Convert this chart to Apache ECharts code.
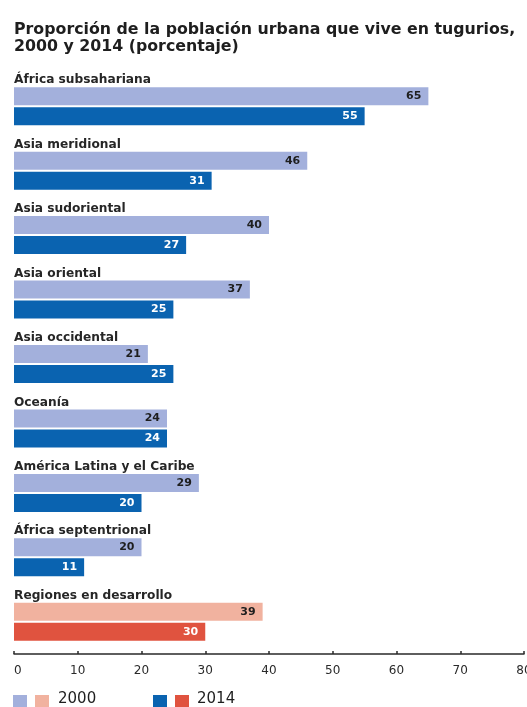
<!DOCTYPE html>
<html>
<head>
<meta charset="utf-8">
<script src="https://cdn.jsdelivr.net/npm/echarts@6/dist/echarts.min.js"></script>
<style>
  html, body { margin: 0; padding: 0; background: #ffffff; }
  #chart { width: 527px; height: 707px; }
</style>
</head>
<body>
<div id="chart"></div>
<script>
// Regions, top to bottom
const regions = [
  'África subsahariana',
  'Asia meridional',
  'Asia sudoriental',
  'Asia oriental',
  'Asia occidental',
  'Oceanía',
  'América Latina y el Caribe',
  'África septentrional',
  'Regiones en desarrollo'
];
// Share of urban population living in slums (%)
const values2000 = [65, 46, 40, 37, 21, 24, 29, 20, 39];
const values2014 = [55, 31, 27, 25, 25, 24, 20, 11, 30];
const axisTicks = [0, 10, 20, 30, 40, 50, 60, 70, 80];
const seriesNames = ['2000', '2014'];

const FONT = '"DejaVu Sans", sans-serif';
const LIGHT_BLUE = '#a3b0dc';
const DARK_BLUE = '#0a63b0';
const LIGHT_RED = '#f1b29f';
const DARK_RED = '#e0533f';
const TOTAL = 'Regiones en desarrollo';

function itemsFor(values, aggregate) {
  return values.map((v, i) => regions[i] === TOTAL
    ? { value: v, itemStyle: { color: aggregate } }
    : v);
}

const chart = echarts.init(document.getElementById('chart'), null, { renderer: 'canvas' });

const barLabel = (color) => ({
  show: true,
  position: 'insideRight',
  distance: 7,
  color: color,
  fontFamily: FONT,
  fontSize: 11,
  fontWeight: 'bold'
});

chart.setOption({
  animation: false,
  backgroundColor: '#ffffff',
  title: {
    text: 'Proporción de la población urbana que vive en tugurios,\n2000 y 2014 (porcentaje)',
    left: 14,
    top: 21,
    padding: 0,
    textStyle: {
      fontFamily: FONT,
      fontSize: 15.8,
      fontWeight: 'bold',
      color: '#1e1e1e',
      lineHeight: 17
    }
  },
  grid: { left: 14, right: 3, top: 74, bottom: 53, containLabel: false, outerBoundsMode: 'none' },
  xAxis: {
    type: 'value',
    min: axisTicks[0],
    max: axisTicks[axisTicks.length - 1],
    interval: axisTicks[1] - axisTicks[0],
    axisLine: { show: true, lineStyle: { color: '#2a2a2a', width: 1.5 } },
    axisTick: { show: true, inside: true, length: 3, lineStyle: { color: '#2a2a2a', width: 1.5 } },
    splitLine: { show: false },
    axisLabel: {
      margin: 11,
      color: '#2a2a2a',
      fontFamily: FONT,
      fontSize: 12,
      hideOverlap: false,
      alignMinLabel: 'left'
    }
  },
  yAxis: {
    type: 'category',
    data: regions,
    inverse: true,
    axisLine: { show: false },
    axisTick: { show: false },
    axisLabel: {
      inside: true,
      margin: 0,
      align: 'left',
      verticalAlign: 'bottom',
      padding: [0, 0, 20, 0],
      color: '#262626',
      fontFamily: FONT,
      fontSize: 12.2,
      fontWeight: 'bold'
    }
  },
  series: [
    {
      name: seriesNames[0],
      type: 'bar',
      barWidth: 18,
      barGap: '11%',
      itemStyle: { color: LIGHT_BLUE },
      label: barLabel('#1e1e1e'),
      data: itemsFor(values2000, LIGHT_RED)
    },
    {
      name: seriesNames[1],
      type: 'bar',
      barWidth: 18,
      barGap: '11%',
      itemStyle: { color: DARK_BLUE },
      label: barLabel('#ffffff'),
      data: itemsFor(values2014, DARK_RED)
    }
  ],
  // Legend: each year shows both palettes (regions / developing regions total)
  graphic: [
    { type: 'rect', left: 13, top: 695, shape: { width: 14, height: 14 }, style: { fill: LIGHT_BLUE } },
    { type: 'rect', left: 35, top: 695, shape: { width: 14, height: 14 }, style: { fill: LIGHT_RED } },
    { type: 'text', left: 58, top: 692, style: { text: seriesNames[0], fontFamily: FONT, fontSize: 15, fill: '#1e1e1e' } },
    { type: 'rect', left: 153, top: 695, shape: { width: 14, height: 14 }, style: { fill: DARK_BLUE } },
    { type: 'rect', left: 175, top: 695, shape: { width: 14, height: 14 }, style: { fill: DARK_RED } },
    { type: 'text', left: 197, top: 692, style: { text: seriesNames[1], fontFamily: FONT, fontSize: 15, fill: '#1e1e1e' } }
  ]
});
</script>
</body>
</html>
